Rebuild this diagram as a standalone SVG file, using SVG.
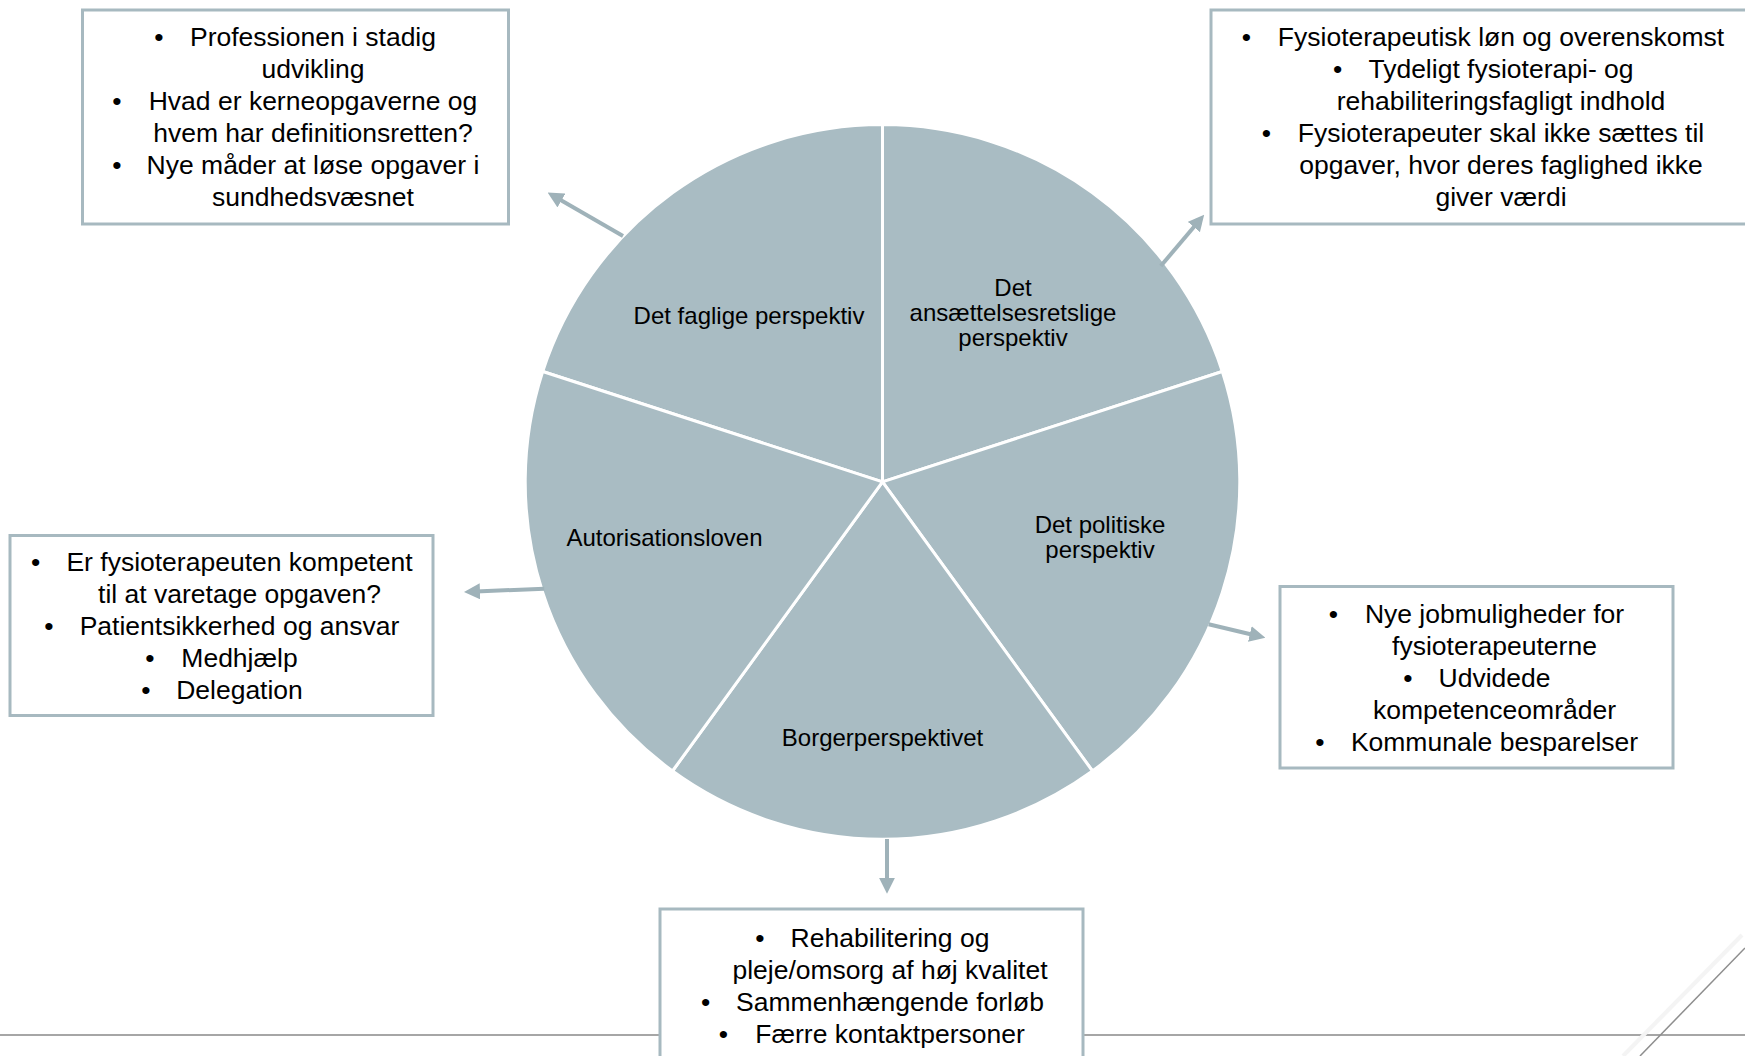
<svg xmlns="http://www.w3.org/2000/svg" width="1745" height="1056" viewBox="0 0 1745 1056">
<style>
.seg{fill:#A9BCC3;stroke:#FFFFFF;stroke-width:3;stroke-linejoin:round}
.lbl{font-family:"Liberation Sans",Arial,sans-serif;font-size:24px;fill:#000;text-anchor:middle}
.box{fill:#FFFFFF;stroke:#A7B9C0;stroke-width:3}
.t{font-family:"Liberation Sans",Arial,sans-serif;font-size:26.5px;fill:#000;text-anchor:middle}
.arr{stroke:#9FB2B9;stroke-width:4;fill:none}
</style>
<defs>
<marker id="ah" markerUnits="userSpaceOnUse" markerWidth="16" markerHeight="16" viewBox="0 0 16 16" refX="4" refY="8" orient="auto">
<path d="M0,0 L16,8 L0,16 Z" fill="#9FB2B9"/>
</marker>
</defs>
<rect x="0" y="0" width="1745" height="1056" fill="#FFFFFF"/>
<g id="background-lines">
<line x1="0" y1="1035" x2="1745" y2="1035" stroke="#A6A6A6" stroke-width="2"/>
<line x1="1623" y1="1056" x2="1742" y2="935" stroke="#F4F4F4" stroke-width="4"/>
<line x1="1640" y1="1056" x2="1745" y2="948" stroke="#8E8E8E" stroke-width="1.5"/>
</g>
<g id="pie">
<g id="seg-faglige">
<path class="seg" d="M882.5,481.9 L542.7,371.5 A357.3,357.3 0 0 1 882.5,124.6 Z"/>
<text class="lbl" x="749" y="324">Det faglige perspektiv</text>
</g>
<g id="seg-ansaettelse">
<path class="seg" d="M882.5,481.9 L882.5,124.6 A357.3,357.3 0 0 1 1222.3,371.5 Z"/>
<text class="lbl" x="1013" y="296">Det</text>
<text class="lbl" x="1013" y="321">ansættelsesretslige</text>
<text class="lbl" x="1013" y="346">perspektiv</text>
</g>
<g id="seg-politiske">
<path class="seg" d="M882.5,481.9 L1222.3,371.5 A357.3,357.3 0 0 1 1092.5,771 Z"/>
<text class="lbl" x="1100" y="533">Det politiske</text>
<text class="lbl" x="1100" y="558">perspektiv</text>
</g>
<g id="seg-borger">
<path class="seg" d="M882.5,481.9 L1092.5,771 A357.3,357.3 0 0 1 672.5,771 Z"/>
<text class="lbl" x="882.5" y="746">Borgerperspektivet</text>
</g>
<g id="seg-autorisation">
<path class="seg" d="M882.5,481.9 L672.5,771 A357.3,357.3 0 0 1 542.7,371.5 Z"/>
<text class="lbl" x="664.5" y="546">Autorisationsloven</text>
</g>
</g>
<g id="connectors">
<line class="arr" x1="623" y1="236" x2="558" y2="198.5" marker-end="url(#ah)"/>
<line class="arr" x1="1160.8" y1="266" x2="1196.4" y2="224" marker-end="url(#ah)"/>
<line class="arr" x1="1208.6" y1="624.3" x2="1253.7" y2="635" marker-end="url(#ah)"/>
<line class="arr" x1="544.2" y1="588.7" x2="476" y2="591.5" marker-end="url(#ah)"/>
<line class="arr" x1="887" y1="839" x2="887" y2="881.7" marker-end="url(#ah)"/>
</g>
<g id="box-faglige">
<rect class="box" x="82.5" y="10" width="426" height="214"/>
<text class="t" x="159" y="46">•</text><text class="t" x="313" y="46">Professionen i stadig</text>
<text class="t" x="313" y="78">udvikling</text>
<text class="t" x="117" y="110">•</text><text class="t" x="313" y="110">Hvad er kerneopgaverne og</text>
<text class="t" x="313" y="142">hvem har definitionsretten?</text>
<text class="t" x="117" y="174">•</text><text class="t" x="313" y="174">Nye måder at løse opgaver i</text>
<text class="t" x="313" y="206">sundhedsvæsnet</text>
</g>
<g id="box-ansaettelse">
<rect class="box" x="1211" y="10" width="545" height="214"/>
<text class="t" x="1246.5" y="46">•</text><text class="t" x="1501" y="46">Fysioterapeutisk løn og overenskomst</text>
<text class="t" x="1337.7" y="78">•</text><text class="t" x="1501" y="78">Tydeligt fysioterapi- og</text>
<text class="t" x="1501" y="110">rehabiliteringsfagligt indhold</text>
<text class="t" x="1266.5" y="142">•</text><text class="t" x="1501" y="142">Fysioterapeuter skal ikke sættes til</text>
<text class="t" x="1501" y="174">opgaver, hvor deres faglighed ikke</text>
<text class="t" x="1501" y="206">giver værdi</text>
</g>
<g id="box-politiske">
<rect class="box" x="1280" y="586.5" width="393" height="181.5"/>
<text class="t" x="1333.3" y="623">•</text><text class="t" x="1494.5" y="623">Nye jobmuligheder for</text>
<text class="t" x="1494.5" y="655">fysioterapeuterne</text>
<text class="t" x="1407.8" y="687">•</text><text class="t" x="1494.5" y="687">Udvidede</text>
<text class="t" x="1494.5" y="719">kompetenceområder</text>
<text class="t" x="1320" y="751">•</text><text class="t" x="1494.5" y="751">Kommunale besparelser</text>
</g>
<g id="box-autorisation">
<rect class="box" x="10" y="535.5" width="423" height="180"/>
<text class="t" x="35.6" y="571">•</text><text class="t" x="239.5" y="571">Er fysioterapeuten kompetent</text>
<text class="t" x="239.5" y="603">til at varetage opgaven?</text>
<text class="t" x="49" y="635">•</text><text class="t" x="239.5" y="635">Patientsikkerhed og ansvar</text>
<text class="t" x="150" y="667">•</text><text class="t" x="239.5" y="667">Medhjælp</text>
<text class="t" x="145.8" y="699">•</text><text class="t" x="239.5" y="699">Delegation</text>
</g>
<g id="box-borger">
<rect class="box" x="660" y="909" width="423" height="160"/>
<text class="t" x="760" y="947">•</text><text class="t" x="890" y="947">Rehabilitering og</text>
<text class="t" x="890" y="979">pleje/omsorg af høj kvalitet</text>
<text class="t" x="705.6" y="1011">•</text><text class="t" x="890" y="1011">Sammenhængende forløb</text>
<text class="t" x="723.4" y="1043">•</text><text class="t" x="890" y="1043">Færre kontaktpersoner</text>
</g>
</svg>
